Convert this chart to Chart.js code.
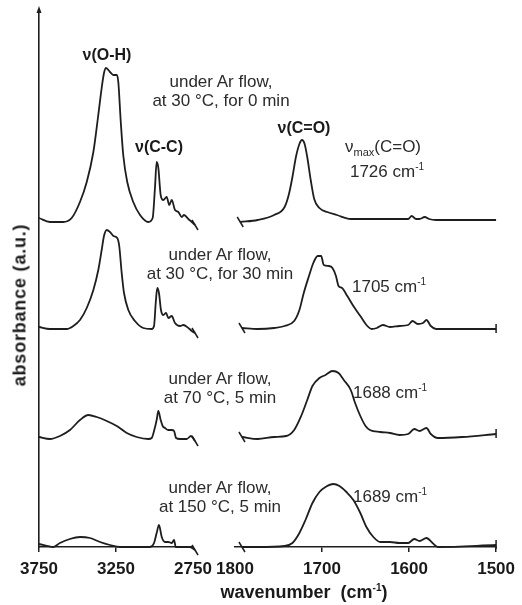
<!DOCTYPE html>
<html><head><meta charset="utf-8">
<script src="https://cdn.jsdelivr.net/npm/chart.js@4/dist/chart.umd.min.js"></script>
<style>
html,body{margin:0;padding:0;background:#fff;}
#wrap{position:relative;width:522px;height:605px;overflow:hidden;font-family:"Liberation Sans",Arial,sans-serif;color:#2b2b2b;}
canvas{position:absolute;left:0;top:0;}
.t{position:absolute;white-space:nowrap;transform:translate(-50%,-50%);font-size:17px;line-height:18.5px;text-align:center;}
.b{font-weight:bold;font-size:16px;color:#1a1a1a;}
.l{transform:translate(0,-50%);text-align:left;}
sup{font-size:10px;vertical-align:7px;line-height:0;}
sub{font-size:11px;vertical-align:-4px;line-height:0;}
#ytitle{position:absolute;left:20px;top:305px;transform:translate(-50%,-50%) rotate(-90deg);font-weight:bold;font-size:18px;white-space:nowrap;color:#1a1a1a;letter-spacing:0.8px;}
#xtitle{position:absolute;left:304px;top:592px;transform:translate(-50%,-50%);font-weight:bold;font-size:18px;white-space:pre;color:#1a1a1a;}
</style></head>
<body><div id="wrap">
<canvas id="cL" width="522" height="605" style="width:522px;height:605px"></canvas>
<canvas id="cR" width="522" height="605" style="width:522px;height:605px"></canvas>

<div class="t b" style="left:107px;top:55px">ν(O-H)</div>
<div class="t b" style="left:159px;top:147px">ν(C-C)</div>
<div class="t b" style="left:304px;top:128px">ν(C=O)</div>

<div class="t" style="left:221px;top:91px">under Ar flow,<br>at 30 °C, for 0 min</div>
<div class="t" style="left:220px;top:264px">under Ar flow,<br>at 30 °C, for 30 min</div>
<div class="t" style="left:220px;top:388px">under Ar flow,<br>at 70 °C, 5 min</div>
<div class="t" style="left:220px;top:497px">under Ar flow,<br>at 150 °C, 5 min</div>

<div class="t" style="left:383px;top:147px">ν<sub>max</sub>(C=O)</div>
<div class="t" style="left:387px;top:172px">1726 cm<sup>-1</sup></div>
<div class="t l" style="left:352px;top:287px">1705 cm<sup>-1</sup></div>
<div class="t l" style="left:353px;top:393px">1688 cm<sup>-1</sup></div>
<div class="t l" style="left:353px;top:497px">1689 cm<sup>-1</sup></div>

<div id="ytitle">absorbance (a.u.)</div>
<div id="xtitle">wavenumber  (cm<sup>-1</sup>)</div>
</div>
<script>
// ---- data (wavenumbers in cm-1, absorbance in a.u., relative to each spectrum's baseline)
const offsets = [3.25, 2.18, 1.08, 0];
const ticksHigh = [3750, 3250, 2750];
const ticksLow = [1800, 1700, 1600, 1500];

const wnHigh1 = [3750,3679,3594,3538,3484,3440,3397,3365,3343,3328,3315,3289,3267,3245,3235,3219,3203,3177,3138,3094,3040,3012,2997,2986,2975,2960,2943,2921,2904,2888,2867,2845,2823,2808,2780,2758,2737];
const absHigh1 = [0.04,0,0,0.04,0.20,0.40,0.70,1.07,1.34,1.49,1.54,1.50,1.47,1.47,1.40,1.00,0.67,0.40,0.20,0.07,0,0.04,0.34,0.60,0.54,0.27,0.22,0.25,0.17,0.22,0.12,0.10,0.05,0.07,0.03,0,-0.03];
const wnLow1 = [1794,1774,1755,1743,1738,1734,1730,1726,1723,1720,1717,1713,1709,1703,1694,1683,1667,1641,1607,1601,1597,1592,1588,1582,1577,1569,1539,1500];
const absLow1 = [0,0.02,0.07,0.15,0.28,0.45,0.65,0.78,0.82,0.78,0.65,0.42,0.23,0.14,0.10,0.07,0.03,0.03,0.03,0.03,0.06,0.03,0.03,0.05,0.03,0.02,0.02,0.02];

const wnHigh2 = [3750,3679,3570,3527,3484,3440,3397,3365,3343,3328,3310,3289,3267,3242,3229,3213,3198,3170,3127,3073,3018,3003,2992,2982,2971,2958,2943,2925,2910,2888,2867,2834,2813,2780,2758,2737];
const absHigh2 = [0.02,0,0,0.03,0.09,0.21,0.39,0.59,0.79,0.93,0.99,0.97,0.93,0.91,0.83,0.56,0.36,0.19,0.08,0.01,0,0.03,0.26,0.41,0.36,0.19,0.14,0.16,0.11,0.13,0.06,0.03,0.04,0.01,-0.02,-0.04];
const wnLow2 = [1792,1774,1755,1743,1732,1726,1721,1715,1710,1705,1701,1698,1692,1688,1684,1681,1677,1671,1664,1656,1649,1643,1637,1630,1622,1611,1601,1596,1590,1584,1580,1575,1569,1539,1500];
const absLow2 = [0.01,0,0.01,0.03,0.08,0.19,0.36,0.53,0.66,0.73,0.73,0.64,0.63,0.61,0.53,0.43,0.41,0.33,0.23,0.13,0.04,0,0.01,0.04,0.02,0.03,0.04,0.08,0.05,0.06,0.09,0.03,0,0,0];

const wnHigh3 = [3750,3679,3614,3549,3484,3430,3375,3310,3245,3180,3116,3040,3018,3003,2986,2975,2960,2947,2932,2910,2888,2873,2860,2834,2791,2763,2737];
const absHigh3 = [0.02,0,0.03,0.09,0.19,0.24,0.22,0.18,0.13,0.06,0.02,0,0.01,0.08,0.19,0.28,0.19,0.13,0.11,0.09,0.09,0.08,0.01,0,0,0.03,-0.02];
const wnLow3 = [1792,1774,1755,1741,1732,1724,1717,1711,1703,1696,1688,1681,1675,1667,1662,1656,1650,1645,1633,1622,1611,1601,1594,1588,1580,1575,1567,1539,1500];
const absLow3 = [0.02,0,0.02,0.03,0.09,0.23,0.39,0.53,0.61,0.64,0.68,0.66,0.59,0.49,0.36,0.23,0.13,0.09,0.07,0.06,0.04,0.05,0.10,0.08,0.11,0.05,0.01,0.02,0.05];

const wnHigh4 = [3750,3657,3614,3549,3484,3419,3354,3289,3224,3029,3003,2986,2971,2953,2932,2910,2888,2873,2862,2769,2737];
const absHigh4 = [0.03,0,0.04,0.08,0.10,0.09,0.05,0.02,0,0,0.04,0.14,0.22,0.10,0.05,0.05,0.04,0.07,0,0,-0.03];
const wnLow4 = [1792,1774,1743,1734,1726,1719,1711,1703,1696,1687,1680,1672,1664,1656,1649,1641,1633,1622,1611,1601,1594,1588,1580,1573,1567,1500];
const absLow4 = [0,0,0.01,0.04,0.14,0.27,0.44,0.55,0.60,0.63,0.61,0.55,0.47,0.34,0.20,0.10,0.05,0.05,0.04,0.04,0.08,0.06,0.09,0.04,0,0.02];

const highSets = [[wnHigh1,absHigh1],[wnHigh2,absHigh2],[wnHigh3,absHigh3],[wnHigh4,absHigh4]];
const lowSets = [[wnLow1,absLow1],[wnLow2,absLow2],[wnLow3,absLow3],[wnLow4,absLow4]];

const LINE = '#1e1e1e';
const FONT = '"Liberation Sans", Arial, sans-serif';

function makeDatasets(sets){
  return sets.map(([wn, ab], i) => ({
    data: wn.map((w, k) => ({x: w, y: ab[k] + offsets[i]})),
    borderColor: LINE, borderWidth: 1.8, pointRadius: 0,
    cubicInterpolationMode: 'monotone', fill: false, clip: false
  }));
}

const decor = {
  id: 'decor',
  afterDatasetsDraw(chart, args, opts){
    const ctx = chart.ctx; ctx.save();
    ctx.strokeStyle = LINE; ctx.fillStyle = LINE; ctx.lineWidth = 1.5;
    chart.data.datasets.forEach((ds, i) => {
      const pts = chart.getDatasetMeta(i).data;
      const p = opts.side === 'end' ? pts[pts.length-1] : pts[0];
      ctx.beginPath(); ctx.moveTo(p.x-3, p.y-5); ctx.lineTo(p.x+3, p.y+5); ctx.stroke();
      if (opts.endTicks && opts.endTicks.includes(i)) {
        const q = pts[pts.length-1];
        ctx.beginPath(); ctx.moveTo(q.x, q.y-5); ctx.lineTo(q.x, q.y+4); ctx.stroke();
      }
    });
    if (opts.arrow) {
      const a = chart.chartArea;
      ctx.beginPath(); ctx.moveTo(a.left, a.top-4); ctx.lineTo(a.left-2.5, a.top+3); ctx.lineTo(a.left+2.5, a.top+3); ctx.closePath(); ctx.fill();
    }
    ctx.restore();
  }
};

function xScale(min, max, tickVals, hideTicks){
  return {
    type: 'linear', reverse: true, min, max,
    afterBuildTicks: s => { s.ticks = tickVals.map(v => ({value: v})); },
    afterFit: s => { s.height = 58; },
    ticks: { font: {family: FONT, size: 17, weight: 'bold'}, color: '#1a1a1a', padding: 7, maxRotation: 0, autoSkip: false,
             callback: v => String(v) },
    grid: { display: true, drawOnChartArea: false, drawTicks: true, tickLength: 5, lineWidth: 1.5,
            color: c => (c.tick && hideTicks.includes(c.tick.value)) ? 'rgba(0,0,0,0)' : LINE },
    border: { display: true, color: LINE, width: 1.6 }
  };
}

Chart.defaults.font.family = FONT;

new Chart(document.getElementById('cL'), {
  type: 'line',
  data: { datasets: makeDatasets(highSets) },
  plugins: [decor],
  options: {
    responsive: false, animation: false, devicePixelRatio: 1,
    layout: { padding: { top: 10, right: 329, left: 0, bottom: 0 } },
    plugins: { legend: {display: false}, tooltip: {enabled: false}, decor: {side: 'end', arrow: true} },
    scales: {
      x: xScale(2750, 3750, ticksHigh, [2750]),
      y: { min: 0, max: 5.37, ticks: {display: false}, grid: {display: false},
           border: {display: true, color: LINE, width: 1.6}, afterFit: s => { s.width = 39; } }
    }
  }
});

new Chart(document.getElementById('cR'), {
  type: 'line',
  data: { datasets: makeDatasets(lowSets) },
  plugins: [decor],
  options: {
    responsive: false, animation: false, devicePixelRatio: 1,
    layout: { padding: { top: 10, right: 23, left: 235, bottom: 0 } },
    plugins: { legend: {display: false}, tooltip: {enabled: false}, decor: {side: 'start', endTicks: [1,2,3]} },
    scales: {
      x: xScale(1500, 1800, ticksLow, [1800]),
      y: { display: false, min: 0, max: 5.37 }
    }
  }
});
</script>
</body></html>
